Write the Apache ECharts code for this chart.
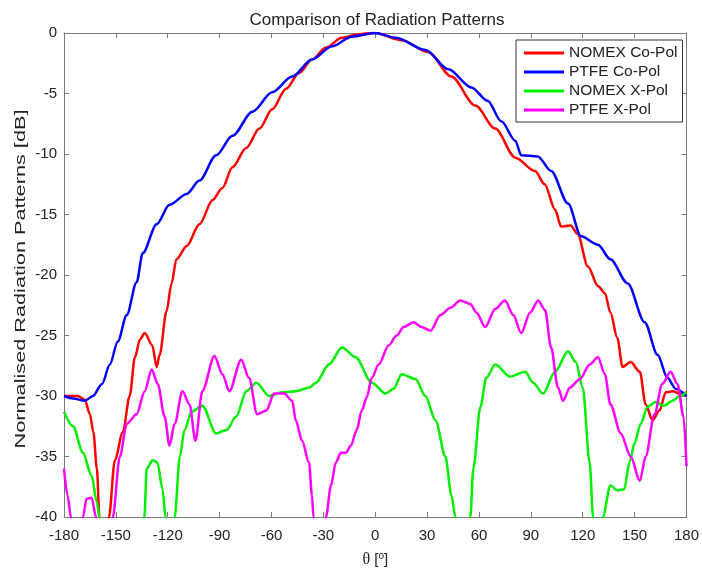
<!DOCTYPE html>
<html>
<head>
<meta charset="utf-8">
<script src="https://cdn.jsdelivr.net/npm/echarts@6/dist/echarts.min.js"></script>
<style>
html,body{margin:0;padding:0;background:#fff;}
#chart{width:702px;height:573px;}
</style>
</head>
<body>
<div id="chart"></div>
<script>
// ---- data ----
const chartTitle = 'Comparison of Radiation Patterns';
const yAxisTitle = 'Normalised Radiation Patterns [dB]';
const seriesNames = ['NOMEX Co-Pol', 'PTFE Co-Pol', 'NOMEX X-Pol', 'PTFE X-Pol'];
const xTicks = [-180, -150, -120, -90, -60, -30, 0, 30, 60, 90, 120, 150, 180];
const yTicks = [-40, -35, -30, -25, -20, -15, -10, -5, 0];

const nomexCoAngles = [-180,-172,-168,-165,-163,-161,-159.5,-157,-154,-150.6,-146,-142,-139,-136,-133.3,-129,-126.4,-124.7,-120.7,-117.8,-115,-109,-101.7,-94,-88.4,-82.6,-74.6,-67,-59.6,-51.6,-44,-36.6,-28.5,-19.3,-9.5,-2,0,15.3,30.8,44,57.9,69.4,81,92.4,98,104,107.5,113,117,123,128.8,132.8,136,140,143,147.7,153,156.4,160.4,164.4,168,172,176,180];
const nomexCoValues = [-30,-30,-30.3,-31.5,-33,-36,-40,-44,-40,-35.3,-33,-30,-26.8,-25.3,-24.8,-25.8,-27.6,-26.6,-23,-20.7,-18.7,-17.6,-15.8,-13.8,-12.8,-11.1,-9.5,-7.9,-6.3,-4.6,-3.3,-2.2,-1.2,-0.4,-0.1,0,0,-0.6,-1.6,-3.6,-6,-7.9,-10.3,-11.4,-12.5,-14.6,-16,-15.9,-16.6,-19.3,-20.9,-21.5,-23.1,-25.2,-27.6,-27.2,-28,-30.7,-32,-31.2,-29.7,-29.6,-29.8,-29.7];

const ptfeCoAngles = [-180,-174.8,-167.9,-163.3,-158,-153.5,-148.9,-143.7,-138,-134.5,-126.4,-119,-109,-101.7,-92,-82.6,-71,-59.6,-48,-36.6,-25,-13.5,0,11.8,29,42.3,55.6,65,72.9,81,84.4,94,101.7,111.5,119,128.8,136,146,155.8,163.3,169,173.7,180];
const ptfeCoValues = [-30,-30.2,-30.4,-30,-29,-27.4,-25.5,-23.3,-20.6,-18.2,-15.8,-14.2,-13.3,-12.2,-10.1,-8.5,-6.5,-4.9,-3.6,-2.2,-1.1,-0.3,0,-0.4,-1.4,-3,-4.5,-5.6,-7.3,-8.9,-10.1,-10.2,-11.4,-14.1,-16.8,-17.5,-18.7,-20.7,-23.9,-26.6,-28.5,-29.4,-30];

const nomexXAngles = [-180,-174.8,-169,-164,-161,-159.5,-155,-140,-133.5,-132.2,-128.7,-126,-123,-121.3,-118.5,-116,-113,-110.3,-106.3,-100,-92,-86,-80.4,-74.6,-68.8,-61.3,-54,-46,-38,-34.3,-26.8,-19.3,-11.3,-2,6,10.6,15.3,23.3,29,34.8,40.6,44,46.4,50,55,56.7,60.8,64.2,69.4,78,86.7,91.3,97,104,111.5,116,120,124,126,129,131.6,136,140,144,147,150,153.5,157.5,162,167,172,176,180];
const nomexXValues = [-31.3,-32.5,-34.7,-36.6,-38.8,-40,-45,-45,-40,-36,-35.3,-35.5,-37.7,-40,-44,-40,-35,-32.8,-31.3,-30.8,-33.1,-32.8,-31.7,-29.6,-28.9,-30,-29.7,-29.6,-29.3,-28.9,-27.4,-26,-26.8,-28.9,-29.8,-29.4,-28.2,-28.6,-30,-32,-35,-38.2,-40,-45,-40,-36,-30.9,-28.5,-27.4,-28.4,-28,-28.9,-29.8,-28,-26.3,-27.2,-29.3,-35.5,-40,-45,-40,-37.4,-37.8,-37.7,-35.5,-33.9,-32.3,-30.9,-30.5,-30.8,-30.4,-30,-29.7];

const ptfeXAngles = [-180,-178,-176,-173,-169,-167,-164,-161.5,-157,-151.8,-147.7,-143.7,-138,-133.3,-129.3,-125.8,-121.8,-119,-116,-111.5,-107.4,-104,-100,-93,-88.4,-84.4,-77.5,-73,-68.3,-63,-58.5,-52.7,-48,-46,-42.3,-38.3,-36.6,-35.7,-32,-28.5,-25.6,-22.8,-19.9,-17,-14.1,-10.7,-7.8,-4.9,-2,2,7.8,12.4,16.4,22.2,26.8,32,37.7,43.5,49.2,55,58.5,63.6,69.4,75,79.8,84.4,89.6,94.2,98.2,101.7,105.7,108.6,112.6,118.4,124,128.8,132.8,136,142,147.7,153,156.4,161.5,166,170.8,174.8,178.3,180];
const ptfeXValues = [-36,-38.2,-40,-43,-40,-38.5,-38.4,-40,-46,-40,-35,-32.3,-31.5,-29.6,-27.8,-29,-31.7,-34.1,-32.3,-29.6,-30.7,-33.7,-29.6,-26.7,-28.2,-29.6,-27,-28.5,-31.5,-31.2,-29.8,-29.8,-30.4,-32,-33.7,-35.5,-38.2,-40,-46,-40,-37.4,-35.5,-34.7,-34.7,-34.1,-32.8,-31.2,-30.1,-28.5,-27.4,-25.8,-25,-24.3,-23.9,-24.3,-24.6,-23.3,-22.7,-22.1,-22.4,-23.1,-24.3,-22.8,-22.1,-23.3,-24.8,-23.1,-22.1,-22.9,-26,-29.3,-30.4,-29.3,-28.6,-27.4,-26.8,-28.2,-30.7,-33.1,-35,-37,-35,-31.5,-29,-28,-29,-31.7,-35.8];

const seriesColors = ['#ff0000', '#0000ff', '#00ee00', '#ff00ff'];

// ---- build ----
const zip = (a, b) => a.map((x, i) => [x, b[i]]);
const seriesData = [
  zip(nomexCoAngles, nomexCoValues),
  zip(ptfeCoAngles, ptfeCoValues),
  zip(nomexXAngles, nomexXValues),
  zip(ptfeXAngles, ptfeXValues)
];

const FONT = "'Liberation Sans', Arial, Helvetica, sans-serif";
const axisColor = '#7a7a7a';
const xMin = xTicks[0], xMax = xTicks[xTicks.length - 1];
const yMin = yTicks[0], yMax = yTicks[yTicks.length - 1];

const chart = echarts.init(document.getElementById('chart'), null, {renderer: 'canvas'});
const baseX = {
  type: 'value', min: xMin, max: xMax, interval: 30,
  axisLine: {show: true, onZero: false, lineStyle: {color: axisColor, width: 1}},
  axisTick: {show: true, inside: true, length: 5, lineStyle: {color: axisColor}},
  splitLine: {show: false}
};
const baseY = {
  type: 'value', min: yMin, max: yMax, interval: 5,
  axisLine: {show: true, onZero: false, lineStyle: {color: axisColor, width: 1}},
  axisTick: {show: true, inside: true, length: 5, lineStyle: {color: axisColor}},
  splitLine: {show: false}
};

const gridTop = 33, gridBottom = 48;
const plotMidY = (gridTop + (573 - gridBottom)) / 2;

chart.setOption({
  animation: false,
  backgroundColor: '#fff',
  textStyle: {fontFamily: FONT, color: '#222'},
  title: {
    text: chartTitle, left: 372, top: 7, textAlign: 'center',
    textStyle: {fontFamily: FONT, fontSize: 17, fontWeight: 'normal', color: '#222'}
  },
  legend: {
    data: seriesNames, orient: 'vertical', left: 516, top: 40,
    padding: [5, 5, 4, 8], itemGap: 3, itemWidth: 40, itemHeight: 3, icon: 'rect',
    borderColor: '#333', borderWidth: 1, backgroundColor: '#fff',
    textStyle: {fontFamily: FONT, fontSize: 15.5, color: '#222', lineHeight: 15}
  },
  grid: {left: 64, right: 13, top: gridTop, bottom: gridBottom, containLabel: false},
  graphic: [{
    type: 'text', x: 21, y: plotMidY, rotation: Math.PI / 2, scaleX: 1.55,
    style: {
      text: yAxisTitle, fontFamily: FONT, fontSize: 14, fill: '#222',
      align: 'center', verticalAlign: 'middle'
    }
  }],
  xAxis: [
    Object.assign({}, baseX, {
      position: 'bottom',
      axisLabel: {show: true, fontFamily: FONT, fontSize: 15, color: '#222', margin: 11},
      name: '{t|θ} [{s|o}]', nameLocation: 'middle', nameGap: 34,
      nameTextStyle: {
        fontFamily: FONT, fontSize: 15, color: '#222',
        rich: {
          t: {fontFamily: "'Liberation Serif', 'DejaVu Serif', serif", fontSize: 16, color: '#222'},
          s: {fontFamily: FONT, fontSize: 10, color: '#222', verticalAlign: 'top', padding: [0, 0, 8, 0]}
        }
      }
    }),
    Object.assign({}, baseX, {position: 'top', axisLabel: {show: false}})
  ],
  yAxis: [
    Object.assign({}, baseY, {
      position: 'left',
      axisLabel: {show: true, fontFamily: FONT, fontSize: 15, color: '#222', margin: 7}
    }),
    Object.assign({}, baseY, {position: 'right', axisLabel: {show: false}})
  ],
  series: seriesNames.map((n, i) => ({
    name: n, type: 'line', xAxisIndex: 0, yAxisIndex: 0,
    data: seriesData[i], symbol: 'none', showSymbol: false,
    smooth: 0.3, smoothMonotone: 'x', clip: true,
    lineStyle: {color: seriesColors[i], width: 2.5},
    itemStyle: {color: seriesColors[i]},
    z: 2 + i
  }))
});
</script>
</body>
</html>
